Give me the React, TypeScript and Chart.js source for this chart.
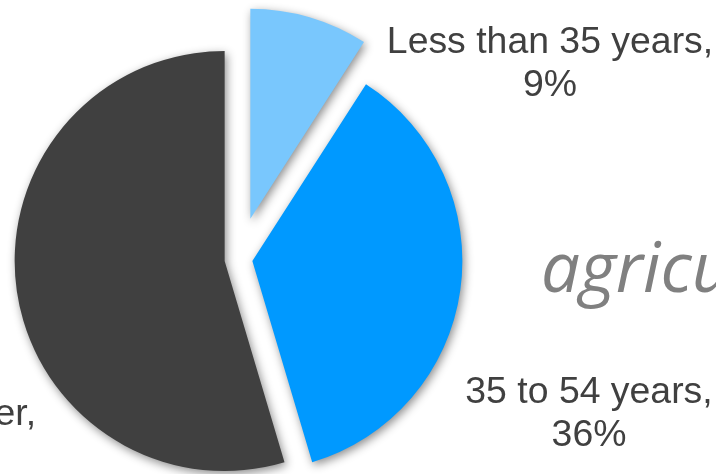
import React, { useEffect, useRef } from 'react';
import { Chart, registerables } from 'chart.js';

Chart.register(...registerables);

// ---- data ----
const categories = ['Less than 35 years', '35 to 54 years', '55 years and older'];
const shares = [9.1, 36.3, 54.6];
const shareLabels = ['9%', '36%', '55%'];
const backgroundWord = 'agriculture';

// ---- styles / layout ----
const sliceColors = ['#79C7FD', '#0099FF', '#404040'];
const explodePx = [42, 14, 14];
const labelAnchors: [number, number][] = [
  [311.5, -206],
  [350.5, 144],
  [-361.5, 166],
];
const LINE_GAP = 43;
const LABEL_FONT = '37.4px "Liberation Sans", Arial, sans-serif';
const LABEL_COLOR = '#404040';

const WIDTH = 716;
const HEIGHT = 474;
const CANVAS_LEFT = -300;
const CANVAS_W = WIDTH - CANVAS_LEFT;
const CENTER_X = 238.5 - CANVAS_LEFT;
const CENTER_Y = 259;
const RADIUS = 210;

const decorPlugin = {
  id: 'decor',
  beforeDraw(chart: any) {
    const ctx = chart.ctx as CanvasRenderingContext2D;
    ctx.save();
    ctx.fillStyle = '#ffffff';
    ctx.fillRect(0, 0, chart.width, chart.height);
    ctx.font = 'italic 69px "Open Sans", sans-serif';
    ctx.fillStyle = '#808080';
    ctx.textAlign = 'left';
    ctx.textBaseline = 'alphabetic';
    ctx.fillText(backgroundWord, 541 - CANVAS_LEFT, 292);
    ctx.restore();
  },
  beforeDatasetsDraw(chart: any) {
    // draw the exploded slices ourselves (pure translation, no radius growth)
    const ctx = chart.ctx as CanvasRenderingContext2D;
    const meta = chart.getDatasetMeta(0);
    meta.data.forEach((arc: any, i: number) => {
      const mid = (arc.startAngle + arc.endAngle) / 2;
      ctx.save();
      ctx.shadowColor = 'rgba(0,0,0,0.45)';
      ctx.shadowBlur = 10;
      ctx.shadowOffsetX = 2;
      ctx.shadowOffsetY = 3;
      ctx.translate(Math.cos(mid) * explodePx[i], Math.sin(mid) * explodePx[i]);
      arc.draw(ctx);
      ctx.restore();
    });
    return false;
  },
  afterDraw(chart: any) {
    const ctx = chart.ctx as CanvasRenderingContext2D;
    const meta = chart.getDatasetMeta(0);
    ctx.save();
    ctx.font = LABEL_FONT;
    ctx.fillStyle = LABEL_COLOR;
    ctx.textAlign = 'center';
    ctx.textBaseline = 'alphabetic';
    meta.data.forEach((arc: any, i: number) => {
      const [dx, dy] = labelAnchors[i];
      const x = arc.x + dx;
      const y = arc.y + dy;
      ctx.fillText(categories[i] + ',', x, y);
      ctx.fillText(shareLabels[i], x, y + LINE_GAP);
    });
    ctx.restore();
  },
};

export default function App() {
  const ref = useRef<HTMLCanvasElement | null>(null);
  useEffect(() => {
    if (!ref.current) return;
    const halfW = Math.min(CENTER_X, CANVAS_W - CENTER_X) - 10;
    const halfH = Math.min(CENTER_Y, HEIGHT - CENTER_Y);
    const chart = new Chart(ref.current, {
      type: 'pie',
      data: {
        labels: categories,
        datasets: [
          {
            data: shares,
            backgroundColor: sliceColors,
            borderWidth: 0,
            offset: 0,
            clip: false as any,
          } as any,
        ],
      },
      options: {
        responsive: false,
        animation: false,
        radius: RADIUS,
        layout: {
          padding: {
            left: CENTER_X - halfW,
            right: CANVAS_W - CENTER_X - halfW,
            top: CENTER_Y - halfH,
            bottom: HEIGHT - CENTER_Y - halfH,
          },
        },
        plugins: {
          legend: { display: false },
          tooltip: { enabled: false },
        },
      } as any,
      plugins: [decorPlugin],
    });
    return () => chart.destroy();
  }, []);
  return (
    <div
      style={{
        position: 'fixed',
        left: 0,
        top: 0,
        width: WIDTH,
        height: HEIGHT,
        overflow: 'hidden',
        background: '#ffffff',
      }}
    >
      <canvas
        ref={ref}
        width={CANVAS_W}
        height={HEIGHT}
        style={{ position: 'absolute', left: CANVAS_LEFT, top: 0, width: CANVAS_W, height: HEIGHT }}
      />
    </div>
  );
}
